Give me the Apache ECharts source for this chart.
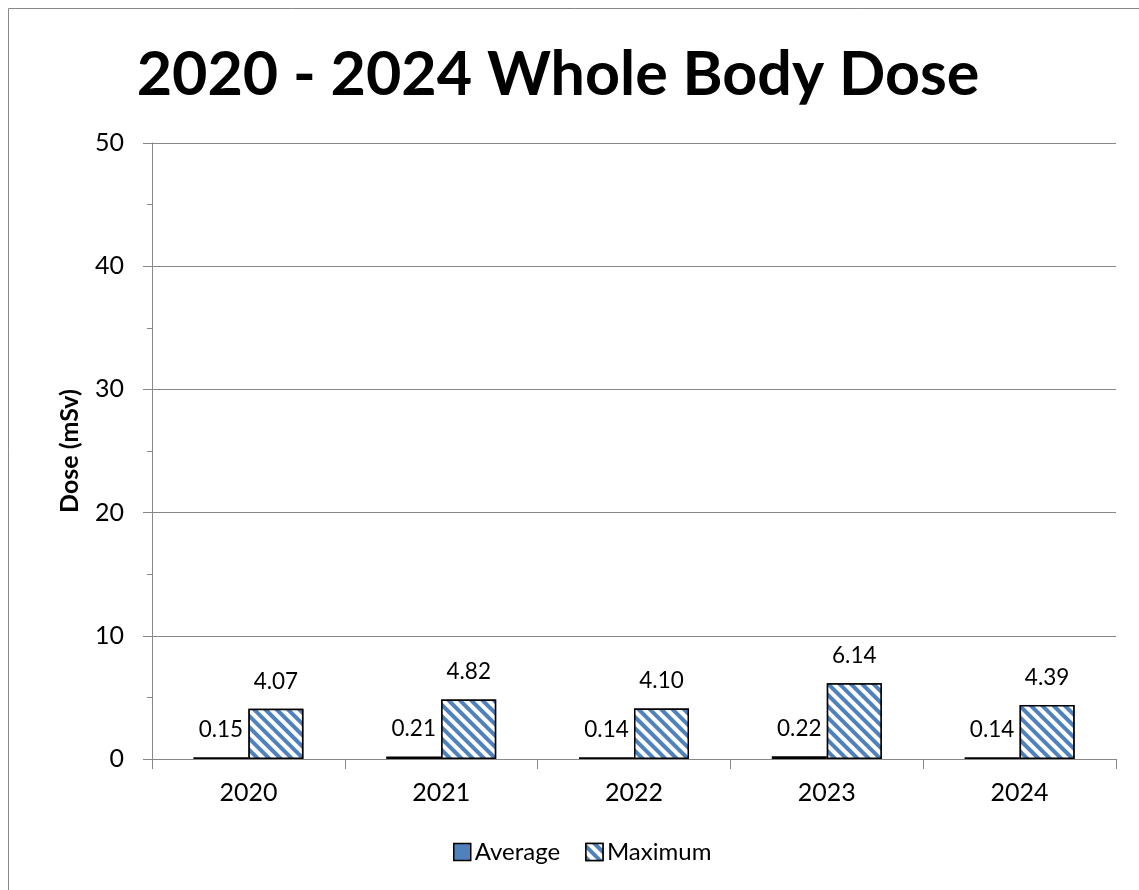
<!DOCTYPE html>
<html>
<head>
<meta charset="utf-8">
<script src="https://cdn.jsdelivr.net/npm/echarts@6/dist/echarts.min.js"></script>
<style>
  html, body { margin: 0; padding: 0; background: #fff; }
  #chart { width: 1139px; height: 890px; }
</style>
</head>
<body>
<div id="chart"></div>
<script>
// Annual whole body dose per year (mSv)
const years = ['2020', '2021', '2022', '2023', '2024'];
const averageDose = [0.15, 0.21, 0.14, 0.22, 0.14];
const maximumDose = [4.07, 4.82, 4.10, 6.14, 4.39];

const FONT = 'Lato, "Open Sans", sans-serif';
const BLUE = '#4F81BD';
const GRID_GRAY = '#888888';

const chart = echarts.init(document.getElementById('chart'), null, { renderer: 'canvas' });

// diagonal hatch running from top-left to bottom-right
const stripes = {
  symbol: 'rect',
  color: BLUE,
  backgroundColor: '#ffffff',
  dashArrayX: [[1, 0]],
  dashArrayY: [4, 4],
  rotation: Math.PI / 4,
  symbolSize: 1
};

const labelCommon = {
  show: true,
  position: 'top',
  distance: 16,
  color: '#000',
  fontFamily: FONT,
  fontSize: 22.5,
  formatter: p => p.value.toFixed(2)
};

chart.setOption({
  animation: false,
  backgroundColor: '#fff',
  graphic: [{
    type: 'rect',
    shape: { x: 8.5, y: 8.5, width: 1200, height: 1000 },
    style: { fill: 'none', stroke: GRID_GRAY, lineWidth: 1 },
    silent: true
  }],
  title: {
    text: '2020 - 2024 Whole Body Dose',
    left: 553,
    textAlign: 'center',
    top: 40,
    textStyle: { fontFamily: FONT, fontWeight: 'bold', fontSize: 61, color: '#000' }
  },
  legend: {
    bottom: 21,
    left: 448,
    icon: 'rect',
    itemWidth: 17,
    itemHeight: 17,
    itemGap: 25,
    textStyle: { fontFamily: FONT, fontSize: 24, color: '#000', padding: [0, 0, 0, -1] },
    data: [
      { name: 'Average', itemStyle: { color: BLUE, borderColor: '#000', borderWidth: 1.5 } },
      { name: 'Maximum', itemStyle: { color: '#fff', borderColor: '#000', borderWidth: 1.5, decal: stripes } }
    ]
  },
  grid: { left: 152, right: 23, top: 143, bottom: 131 },
  xAxis: {
    type: 'category',
    data: years,
    axisLine: { lineStyle: { color: GRID_GRAY, width: 1 } },
    axisTick: { show: true, length: 10, alignWithLabel: false, lineStyle: { color: GRID_GRAY } },
    axisLabel: { color: '#000', fontFamily: FONT, fontSize: 25, margin: 21 }
  },
  yAxis: {
    type: 'value',
    min: 0,
    max: 50,
    interval: 10,
    name: 'Dose (mSv)',
    nameLocation: 'middle',
    nameGap: 70,
    nameTextStyle: { fontFamily: FONT, fontWeight: 'bold', fontSize: 25, color: '#000' },
    axisLine: { show: true, lineStyle: { color: GRID_GRAY, width: 1 } },
    axisTick: { show: true, length: 9, lineStyle: { color: GRID_GRAY } },
    minorTick: { show: true, splitNumber: 2, length: 5, lineStyle: { color: GRID_GRAY } },
    axisLabel: { color: '#000', fontFamily: FONT, fontSize: 25, margin: 28 },
    splitLine: { show: true, lineStyle: { color: GRID_GRAY, width: 1 } }
  },
  series: [
    {
      name: 'Average',
      type: 'bar',
      data: averageDose,
      barWidth: 55,
      barGap: '0%',
      itemStyle: { color: BLUE, borderColor: '#000', borderWidth: 1.5 },
      label: labelCommon
    },
    {
      name: 'Maximum',
      type: 'bar',
      data: maximumDose,
      barWidth: 55,
      itemStyle: { color: '#fff', borderColor: '#000', borderWidth: 1.5, decal: stripes },
      label: labelCommon
    }
  ]
});
</script>
</body>
</html>
